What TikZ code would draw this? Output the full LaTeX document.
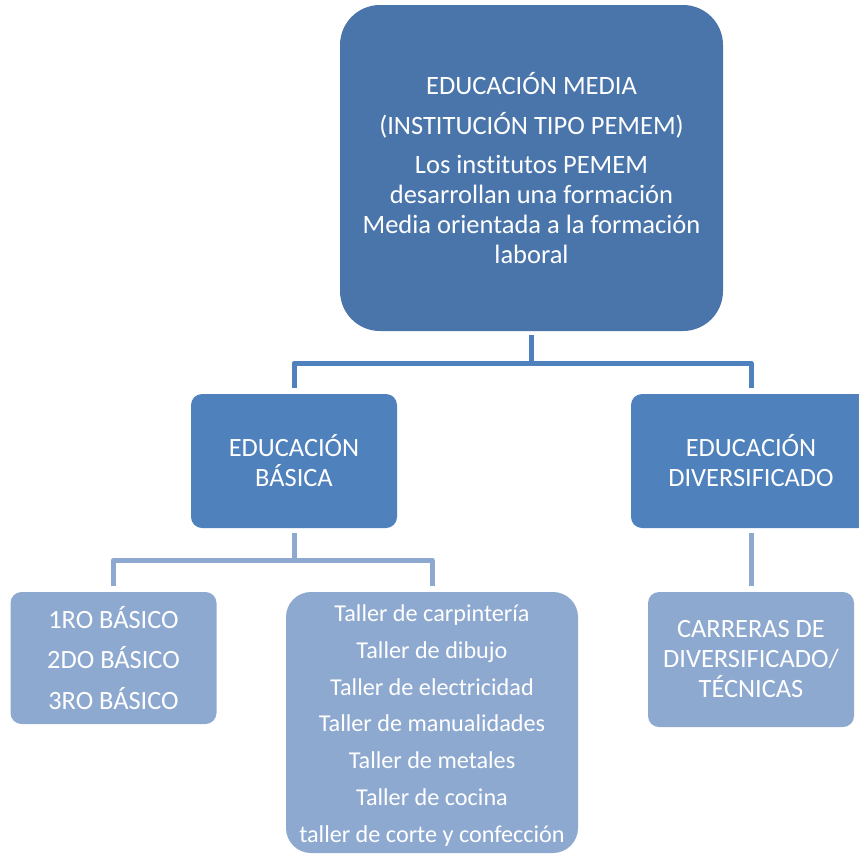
\documentclass[tikz,border=0pt]{standalone}
\usepackage{fontspec}
\setmainfont{Carlito}[Ligatures=NoCommon]
\definecolor{topblue}{RGB}{74,117,170}
\definecolor{midblue}{RGB}{79,129,189}
\definecolor{lightblue}{RGB}{142,169,208}
\begin{document}
\begin{tikzpicture}[x=1pt,y=-1pt,
  box/.style={draw=none, text=white, align=center, inner sep=0pt},
  topbox/.style={box, fill=topblue, minimum width=383pt, minimum height=326pt, rounded corners=40pt,
     font=\fontsize{26.5}{30}\selectfont},
  midbox/.style={box, fill=midblue, minimum width=206pt, minimum height=134pt, rounded corners=11pt,
     font=\fontsize{26.4}{30}\selectfont},
  lowbox/.style={box, fill=lightblue, minimum width=206pt, minimum height=135pt, rounded corners=11pt,
     font=\fontsize{26.4}{30}\selectfont},
  conn/.style={draw=midblue, line width=5pt, line join=round},
  conn2/.style={draw=lightblue, line width=5pt, line join=round}
]
\useasboundingbox (0,0) rectangle (859,854);
\clip (0,0) rectangle (859,854);

\node[topbox] (top) at (531.5,168) {EDUCACIÓN MEDIA\\[10pt] (INSTITUCIÓN TIPO PEMEM)\\[9pt] Los institutos PEMEM\\ desarrollan una formación\\ Media orientada a la formación\\ laboral};

\node[midbox] (basica) at (294,461) {EDUCACIÓN\\ BÁSICA};
\node[midbox, minimum width=240pt] (div) at (751,461) {EDUCACIÓN\\ DIVERSIFICADO};

\node[lowbox, font=\fontsize{26.4}{40.5}\selectfont, minimum height=132pt] (basicos) at (113.5,658) {1RO BÁSICO\\ 2DO BÁSICO\\ 3RO BÁSICO};
\node[lowbox, minimum width=292pt, minimum height=261pt, rounded corners=25pt,
      font=\fontsize{24.2}{36.7}\selectfont] (talleres) at (432,722.5)
  {\parbox[c][261pt][c]{292pt}{\centering\vspace*{6pt}Taller de carpintería\\ Taller de dibujo\\ Taller de electricidad\\ Taller de manualidades\\ Taller de metales\\ Taller de cocina\\ taller de corte y confección}};
\node[lowbox] (carreras) at (751,659.5) {CARRERAS DE\\ DIVERSIFICADO/\\ TÉCNICAS};

\draw[conn, shorten <=4pt, shorten >=6pt] (top.south) -- ++(0,32) -| (basica.north);
\draw[conn, shorten <=4pt, shorten >=6pt] (top.south) -- ++(0,32) -| (div.north);
\draw[conn2, shorten <=5pt, shorten >=6pt] (basica.south) -- ++(0,32) -| (basicos.north);
\draw[conn2, shorten <=5pt, shorten >=6pt] (basica.south) -- ++(0,32) -| (talleres.north);
\draw[conn2, shorten <=5pt, shorten >=6pt] (div.south) -- (carreras.north);
\end{tikzpicture}
\end{document}
